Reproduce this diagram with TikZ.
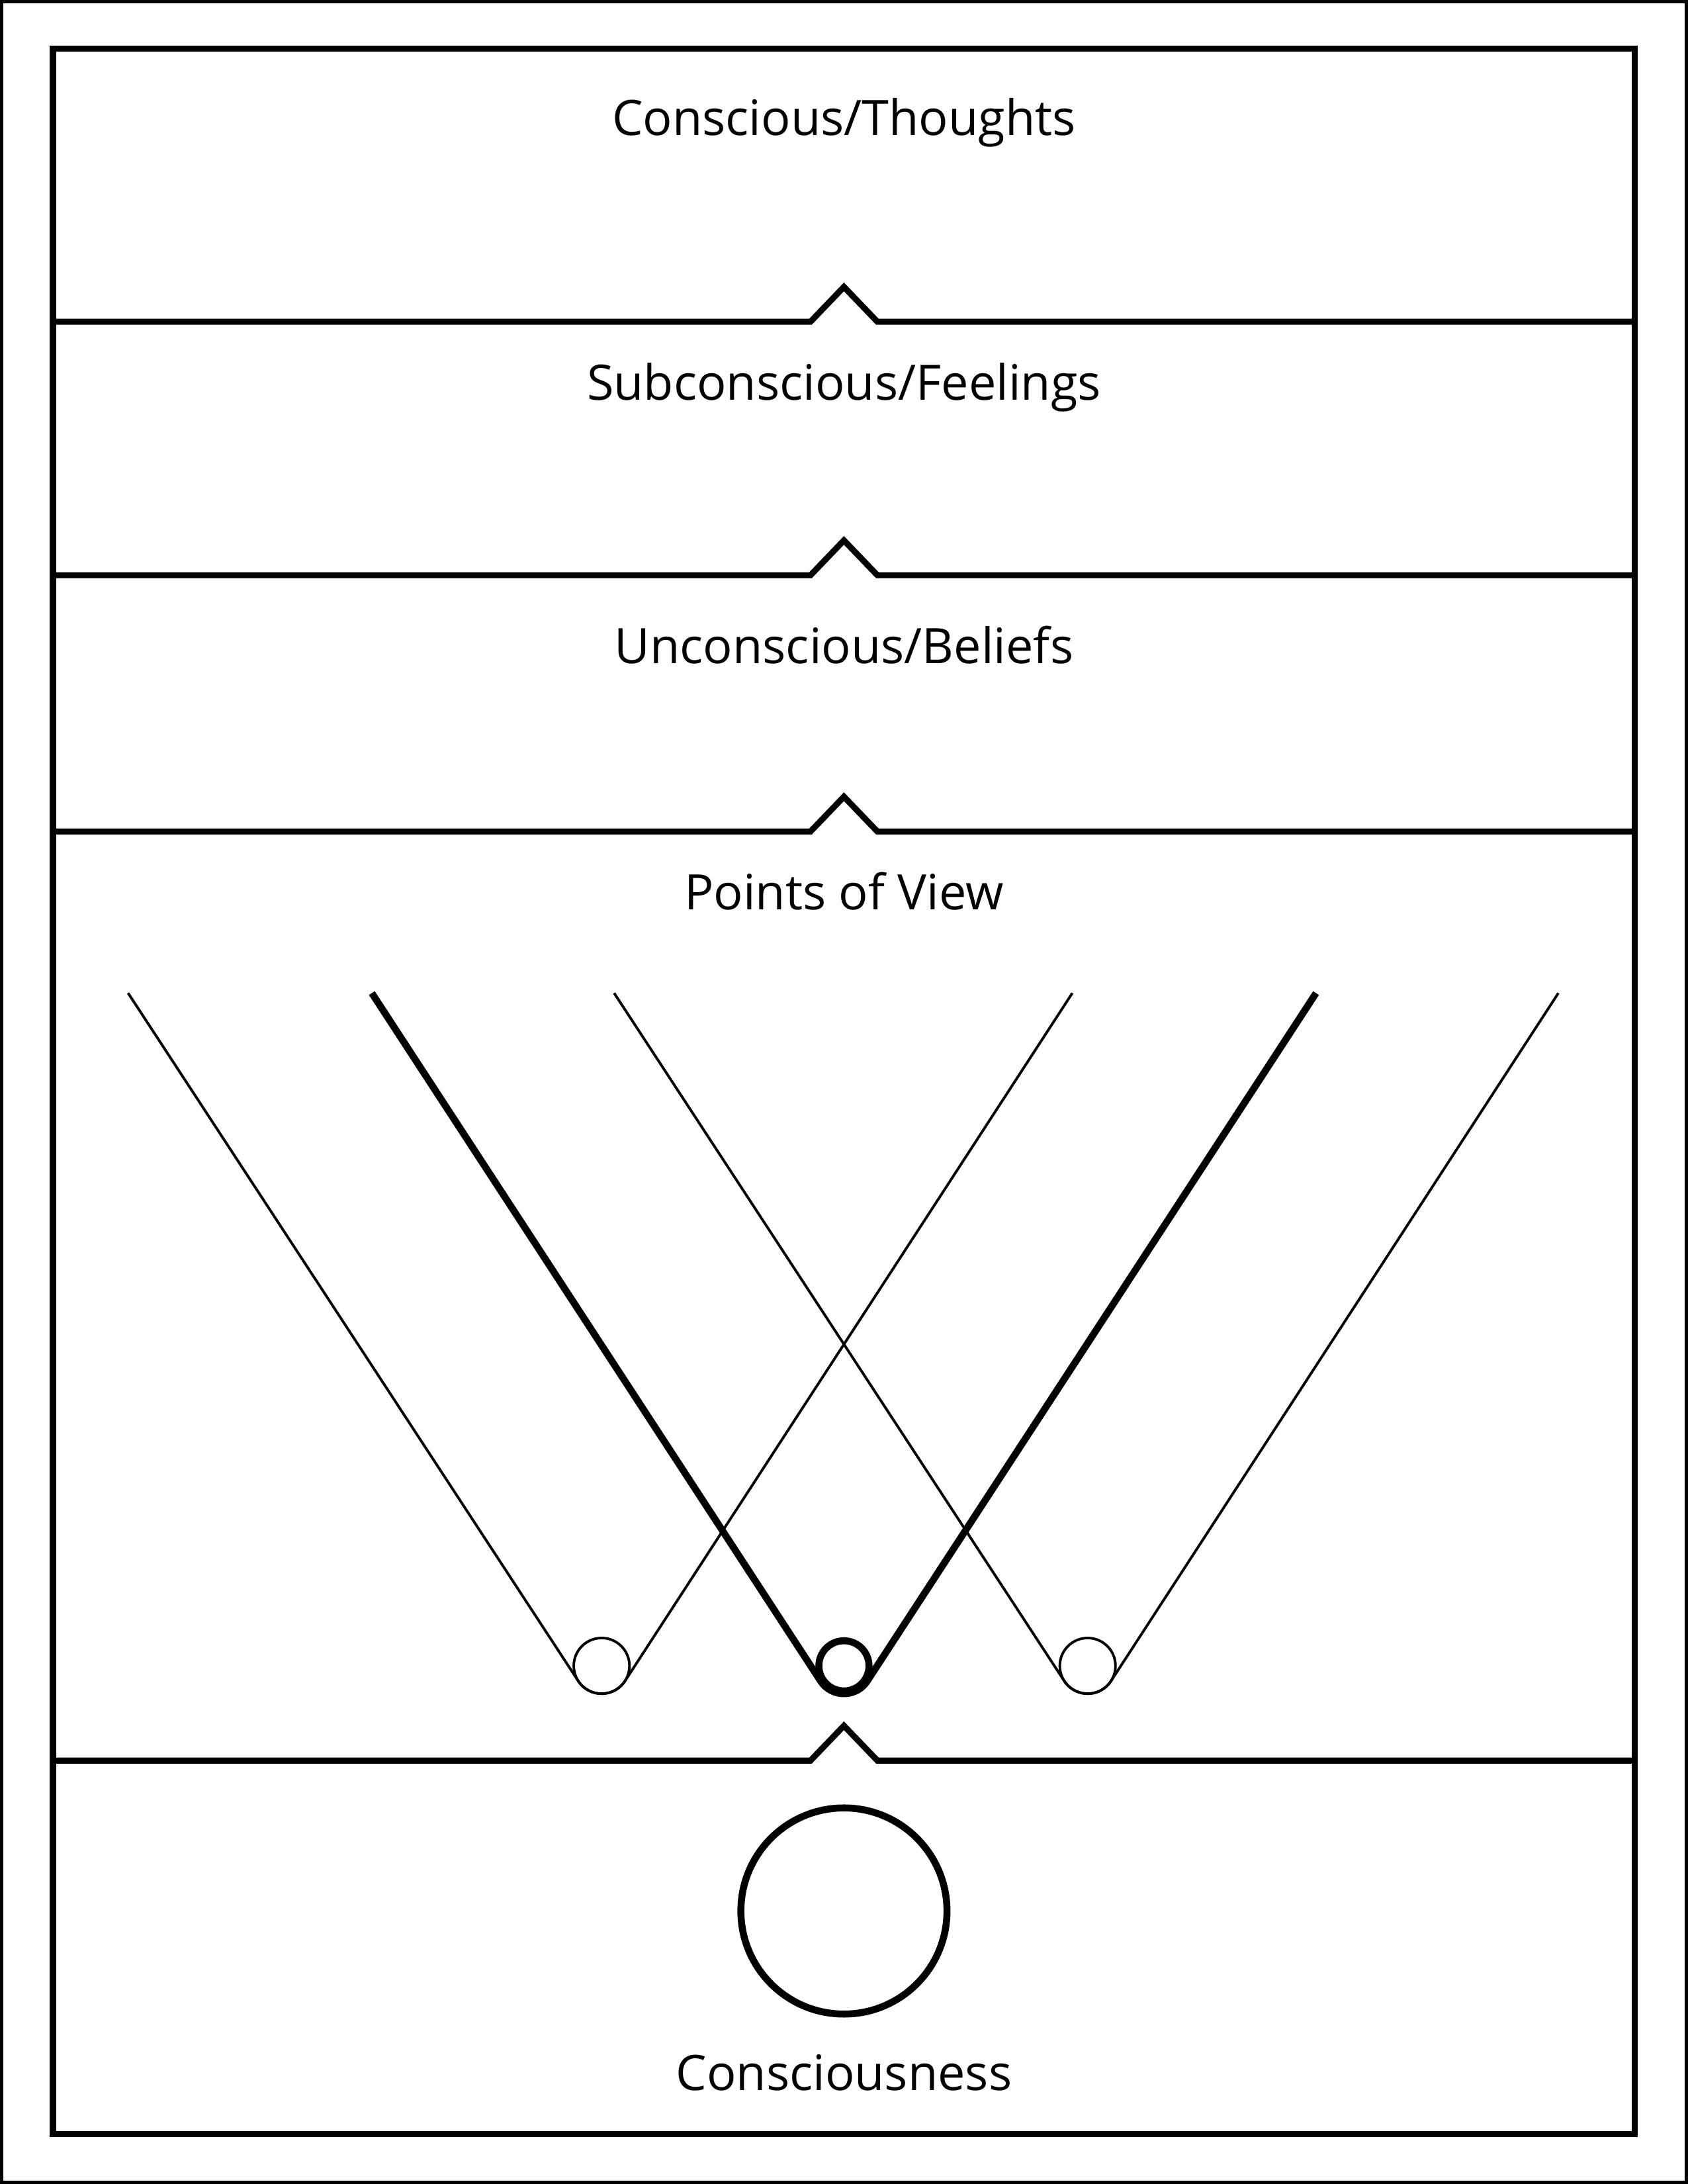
\documentclass[tikz,border=0pt]{standalone}
\usepackage{fontspec}
\setmainfont{Open Sans}
\usetikzlibrary{calc}
\begin{document}
\begin{tikzpicture}[x=0.02104cm,y=0.02104cm,
  thick line/.style={line width=2.6pt,line join=miter},
  thin line/.style={line width=1.1pt},
  lbl/.style={font=\fontsize{21}{25}\selectfont,inner sep=0pt}]
\useasboundingbox (0,0) rectangle (1212,1568);
\draw[line width=1.4pt] (1,1) rectangle (1211,1567);
\draw[thick line] (38,1568-35) rectangle (1174,1568-1532);
\foreach \yy in {231,413,597,1264}{
  \draw[thick line] (38,1568-\yy) -- (582,1568-\yy) -- (606,1568-\yy+25) -- (630,1568-\yy) -- (1174,1568-\yy);
}
\node[lbl] (t1) at (606,1568-88) {Conscious/Thoughts};
\node[lbl] (t2) at (606,1568-278) {Subconscious/Feelings};
\node[lbl] (t3) at (606,1568-463) {Unconscious/Beliefs};
\node[lbl] (t4) at (606,1568-640) {Points of View};
\node[lbl] (t5) at (606,1568-1488) {Consciousness};
% V shapes
\coordinate (cL) at (432,1568-1196);
\coordinate (cM) at (606,1568-1196);
\coordinate (cR) at (781,1568-1196);
\draw[thin line] (cL) circle (20);
\draw[thin line] (92,1568-713) -- ($(cL)+(213:20)$) arc (213:327:20) -- (770,1568-713);
\draw[thin line] (cR) circle (20);
\draw[thin line] (441,1568-713) -- ($(cR)+(213:20)$) arc (213:327:20) -- (1119,1568-713);
\draw[line width=3pt] (cM) circle (18);
\draw[line width=3pt] (267,1568-713) -- ($(cM)+(213:20)$) arc (213:327:20) -- (945,1568-713);
\node[draw,circle,line width=3pt,minimum size=148*0.02104cm,inner sep=0pt] (big) at (606,1568-1372) {};
\end{tikzpicture}
\end{document}
